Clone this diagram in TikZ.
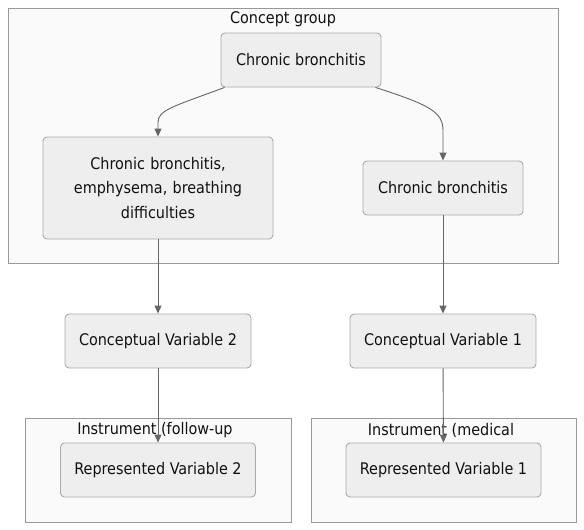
\documentclass[tikz,border=0pt]{standalone}
\usepackage{fontspec}
\setmainfont{DejaVu Sans Condensed}
\usetikzlibrary{arrows.meta}
\definecolor{nodefill}{HTML}{EEEEEE}
\definecolor{nodeline}{HTML}{AAAAAA}
\definecolor{clusterfill}{HTML}{FAFAFA}
\definecolor{clusterline}{HTML}{999999}
\definecolor{edgecol}{HTML}{666666}
\definecolor{txt}{HTML}{111111}
\tikzset{
  box/.style={draw=nodeline, fill=nodefill, rounded corners=4pt, line width=0.9pt,
    font=\fontsize{16}{24.5}\selectfont, text=txt, align=center, inner sep=0pt},
  cluster/.style={draw=clusterline, fill=clusterfill, line width=0.9pt},
  ctitle/.style={font=\fontsize{16}{18}\selectfont, text=txt, inner sep=0pt},
  edge/.style={draw=edgecol, line width=0.9pt, -{Triangle[length=8pt,width=7pt]}}
}
\begin{document}
\begin{tikzpicture}[x=1pt,y=-1pt]
\useasboundingbox (0,0) rectangle (584,530);
% clusters
\draw[cluster] (8,8) rectangle (558,263);
\node[ctitle] (cg) at (283,19) {Concept group};
\draw[cluster] (25,418) rectangle (291,522);
\draw[cluster] (311,418) rectangle (576,522);
\node[ctitle] (i2) at (155,430) {Instrument (follow-up};
\node[ctitle] (i1) at (441,430) {Instrument (medical};
% nodes
\node[box, minimum width=160pt, minimum height=54pt] (top) at (301,60) {Chronic bronchitis};
\node[box, minimum width=230pt, minimum height=102pt, text width=190pt] (left) at (158,188) {Chronic bronchitis,\\ emphysema, breathing\\ difficulties};
\node[box, minimum width=160pt, minimum height=54pt] (right) at (443,188) {Chronic bronchitis};
\node[box, minimum width=186pt, minimum height=54pt] (cv2) at (158,341) {Conceptual Variable 2};
\node[box, minimum width=186pt, minimum height=54pt] (cv1) at (443,341) {Conceptual Variable 1};
\node[box, minimum width=195pt, minimum height=54pt] (rv2) at (158,470) {Represented Variable 2};
\node[box, minimum width=195pt, minimum height=54pt] (rv1) at (443.5,470) {Represented Variable 1};
% edges
\draw[edge] ([xshift=4pt]top.south west) .. controls (172,107) and (158,110) .. ([yshift=14pt]left.north) -- (left.north);
\draw[edge] ([xshift=-6pt]top.south east) .. controls (430,105) and (443,112) .. ([yshift=30pt]right.north) -- (right.north);
\draw[edge] (left) -- (cv2);
\draw[edge] (right) -- (cv1);
\draw[edge] (cv2) -- (rv2);
\draw[edge] (cv1) -- (rv1);
\end{tikzpicture}
\end{document}
